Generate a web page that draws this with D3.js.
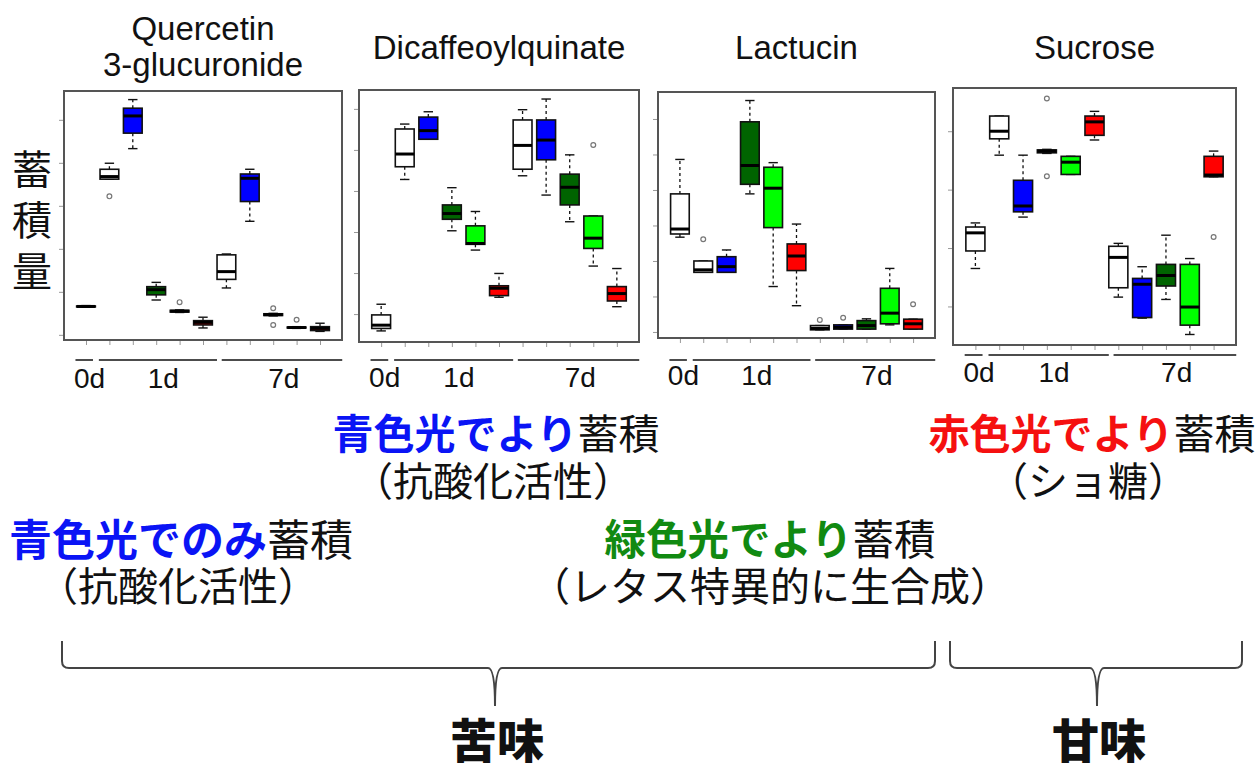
<!DOCTYPE html>
<html lang="ja">
<head>
<meta charset="UTF-8" />
<title>Light quality and metabolite accumulation</title>
<script src="https://d3js.org/d3.v7.min.js"></script>
<style>
  body { margin: 0; background: #fff; }
  svg { display: block; }
  .title { font-family: 'Liberation Sans', Arial, sans-serif; font-size: 33px; fill: #111; }
  .grp { font-family: 'Liberation Sans', Arial, sans-serif; font-size: 28px; fill: #111; }
  .jp { font-family: 'Noto Sans CJK JP', sans-serif; fill: #111; }
</style>
</head>
<body>
<svg width="1258" height="763"></svg>
<script>
// treatment order inside every panel
const days = ["0d", "1d", "1d", "1d", "1d", "1d", "7d", "7d", "7d", "7d", "7d"];
const lights = ["white", "white", "blue", "dkgreen", "green", "red", "white", "blue", "dkgreen", "green", "red"];
const fills = { white: "#ffffff", blue: "#0000ff", dkgreen: "#006400", green: "#00ff00", red: "#ff0000" };

// [min, q1, median, q3, max] in arbitrary units (ticks have no labels)
const quercetinBoxes = [
  [0.64, 0.65, 0.66, 0.67, 0.68], [3.62, 3.62, 3.68, 3.85, 3.99], [4.33, 4.69, 5.09, 5.27, 5.47],
  [0.81, 0.93, 1.05, 1.12, 1.22], [0.52, 0.53, 0.55, 0.57, 0.58], [0.16, 0.23, 0.29, 0.33, 0.41],
  [1.09, 1.29, 1.47, 1.86, 1.88], [2.64, 3.10, 3.64, 3.74, 3.85], [0.44, 0.45, 0.47, 0.49, 0.50],
  [0.15, 0.16, 0.17, 0.18, 0.19], [0.08, 0.10, 0.15, 0.19, 0.27]
];
const quercetinOutliers = [[], [3.22], [], [], [0.76], [], [], [], [0.62, 0.23], [0.35], []];

const dicaffeoylBoxes = [
  [0.59, 0.65, 0.73, 0.98, 1.24], [4.28, 4.59, 4.90, 5.51, 5.63], [5.26, 5.26, 5.47, 5.80, 5.93],
  [3.03, 3.31, 3.45, 3.66, 4.08], [2.56, 2.70, 2.72, 3.15, 3.50], [1.41, 1.45, 1.63, 1.69, 1.99],
  [4.37, 4.53, 5.11, 5.73, 5.98], [3.90, 4.76, 5.24, 5.73, 6.24], [3.25, 3.66, 4.09, 4.41, 4.88],
  [2.17, 2.60, 2.85, 3.39, 3.39], [1.18, 1.32, 1.50, 1.67, 2.11]
];
const dicaffeoylOutliers = [[], [], [], [], [], [], [], [], [], [5.12], []];

const lactucinBoxes = [
  [3.67, 3.76, 3.90, 4.89, 5.86], [2.68, 2.68, 2.75, 3.00, 3.00], [2.68, 2.68, 2.84, 3.12, 3.31],
  [4.89, 5.16, 5.69, 6.92, 7.52], [2.28, 3.94, 5.05, 5.64, 5.77], [1.74, 2.73, 3.14, 3.48, 4.04],
  [1.06, 1.06, 1.10, 1.18, 1.18], [1.08, 1.08, 1.13, 1.20, 1.20], [1.08, 1.08, 1.18, 1.32, 1.37],
  [1.20, 1.23, 1.53, 2.23, 2.79], [1.08, 1.08, 1.23, 1.36, 1.36]
];
const lactucinOutliers = [[], [3.61], [], [], [], [], [1.34], [1.40], [], [], [1.78]];

const sucroseBoxes = [
  [1.65, 1.95, 2.26, 2.36, 2.43], [3.59, 3.87, 4.00, 4.26, 4.26], [2.53, 2.62, 2.72, 3.16, 3.59],
  [3.62, 3.63, 3.66, 3.68, 3.69], [3.26, 3.26, 3.47, 3.57, 3.57], [3.85, 3.93, 4.16, 4.26, 4.34],
  [1.16, 1.32, 1.84, 2.03, 2.08], [0.80, 0.81, 1.38, 1.48, 1.68], [1.12, 1.35, 1.53, 1.72, 2.22],
  [0.52, 0.68, 0.99, 1.72, 1.82], [3.22, 3.22, 3.25, 3.57, 3.66]
];
const sucroseOutliers = [[], [], [], [4.56, 3.23], [], [], [], [], [], [], [2.19]];

const titles = [["Quercetin", "3-glucuronide"], ["Dicaffeoylquinate"], ["Lactucin"], ["Sucrose"]];
const yTicks = [[0, 1, 2, 3, 4, 5], [1, 2, 3, 4, 5, 6], [1, 2, 3, 4, 5, 6, 7], [1, 2, 3, 4]];
const yDomains = [[-0.12, 5.67], [0.32, 6.46], [0.83, 7.76], [0.34, 4.74]];
const dayGroups = [["0d", 0.55, 1.3, 1.15], ["1d", 1.55, 6.6, 4.3], ["7d", 6.8, 11.95, 9.45]];

// panel frames on the page
const frames = [
  { x0: 64, x1: 342, y0: 91, y1: 340, line: 360, lab: 388 },
  { x0: 359, x1: 639, y0: 90, y1: 342, line: 360, lab: 387 },
  { x0: 658, x1: 935, y0: 92, y1: 338, line: 360, lab: 385 },
  { x0: 953, x1: 1236, y0: 88, y1: 345, line: 355, lab: 382 }
];
const boxes = [quercetinBoxes, dicaffeoylBoxes, lactucinBoxes, sucroseBoxes];
const outliers = [quercetinOutliers, dicaffeoylOutliers, lactucinOutliers, sucroseOutliers];

const svg = d3.select("svg");

frames.forEach((f, p) => {
  const x = d3.scaleLinear().domain([0.06, 11.94]).range([f.x0, f.x1]);
  const y = d3.scaleLinear().domain(yDomains[p]).range([f.y1, f.y0]);
  const g = svg.append("g");
  const bw = x(0.4) - x(0);
  const cap = x(0.2) - x(0);

  // frame
  g.append("rect")
    .attr("x", f.x0).attr("y", f.y0)
    .attr("width", f.x1 - f.x0).attr("height", f.y1 - f.y0)
    .attr("fill", "none").attr("stroke", "#555").attr("stroke-width", 2);

  // y ticks, no labels
  g.append("g").attr("transform", `translate(${f.x0 - 1},0)`)
    .call(d3.axisLeft(y).tickValues(yTicks[p]).tickSize(4).tickFormat(""))
    .call(a => a.select(".domain").remove())
    .selectAll("line").attr("stroke", "#999");

  // x ticks
  g.append("g").attr("transform", `translate(0,${f.y1 + 1})`)
    .call(d3.axisBottom(x).tickValues(d3.range(1, 12)).tickSize(4).tickFormat(""))
    .call(a => a.select(".domain").remove())
    .selectAll("line").attr("stroke", "#999");

  const data = boxes[p].map((s, i) => ({ i: i + 1, s, light: lights[i], out: outliers[p][i] }));
  const b = g.selectAll("g.box").data(data).join("g").attr("class", "box");

  // whiskers
  b.append("line")
    .attr("x1", d => x(d.i)).attr("x2", d => x(d.i))
    .attr("y1", d => y(d.s[3])).attr("y2", d => y(d.s[4]))
    .attr("stroke", "#111").attr("stroke-width", 1.3).attr("stroke-dasharray", "3,3");
  b.append("line")
    .attr("x1", d => x(d.i)).attr("x2", d => x(d.i))
    .attr("y1", d => y(d.s[1])).attr("y2", d => y(d.s[0]))
    .attr("stroke", "#111").attr("stroke-width", 1.3).attr("stroke-dasharray", "3,3");
  [0, 4].forEach(k => {
    b.append("line")
      .attr("x1", d => x(d.i) - cap).attr("x2", d => x(d.i) + cap)
      .attr("y1", d => y(d.s[k])).attr("y2", d => y(d.s[k]))
      .attr("stroke", "#111").attr("stroke-width", 1.4);
  });

  // box
  b.append("rect")
    .attr("x", d => x(d.i) - bw).attr("width", 2 * bw)
    .attr("y", d => y(d.s[3]))
    .attr("height", d => Math.max(0.5, y(d.s[1]) - y(d.s[3])))
    .attr("fill", d => fills[d.light])
    .attr("stroke", "#111").attr("stroke-width", 1.6);

  // median
  b.append("line")
    .attr("x1", d => x(d.i) - bw).attr("x2", d => x(d.i) + bw)
    .attr("y1", d => y(d.s[2])).attr("y2", d => y(d.s[2]))
    .attr("stroke", "#000").attr("stroke-width", 3);

  // outliers
  b.selectAll("circle").data(d => d.out.map(v => ({ i: d.i, v }))).join("circle")
    .attr("cx", d => x(d.i)).attr("cy", d => y(d.v)).attr("r", 2.4)
    .attr("fill", "none").attr("stroke", "#777").attr("stroke-width", 1.2);

  // day groups under the axis
  dayGroups.forEach(([lab, a, c, m]) => {
    g.append("line")
      .attr("x1", x(a)).attr("x2", Math.min(x(c), f.x1 + 4))
      .attr("y1", f.line).attr("y2", f.line)
      .attr("stroke", "#111").attr("stroke-width", 1.5);
    g.append("text").attr("class", "grp")
      .attr("x", x(m)).attr("y", f.lab)
      .attr("text-anchor", "middle").text(lab);
  });

  // title
  const t = titles[p];
  const cx = (f.x0 + f.x1) / 2;
  if (t.length === 2) {
    g.append("text").attr("class", "title").attr("x", cx).attr("y", 40).attr("text-anchor", "middle").text(t[0]);
    g.append("text").attr("class", "title").attr("x", cx).attr("y", 76).attr("text-anchor", "middle").text(t[1]);
  } else {
    g.append("text").attr("class", "title").attr("x", cx).attr("y", 59).attr("text-anchor", "middle").text(t[0]);
  }
});

// y axis label, stacked vertically
["蓄", "積", "量"].forEach((c, i) => {
  svg.append("text").attr("class", "jp")
    .attr("x", 32).attr("y", 167 + i * 51)
    .attr("text-anchor", "middle").attr("dominant-baseline", "central")
    .style("font-size", "40px").text(c);
});

// annotations: [colored part, color, rest, x, y, size, subtitle, x, y]
const notes = [
  ["青色光でより", "#0a14f5", "蓄積", 496, 431, 41, "（抗酸化活性）", 493, 479],
  ["青色光でのみ", "#0a14f5", "蓄積", 181, 537, 43, "（抗酸化活性）", 178, 584],
  ["緑色光でより", "#118a11", "蓄積", 770, 537, 41.5, "（レタス特異的に生合成）", 770, 584],
  ["赤色光でより", "#f51010", "蓄積", 1092, 431, 41, "（ショ糖）", 1088, 479]
];
notes.forEach(n => {
  const t = svg.append("text").attr("class", "jp")
    .attr("x", n[3]).attr("y", n[4])
    .attr("text-anchor", "middle").attr("dominant-baseline", "central")
    .style("font-size", n[5] + "px");
  t.append("tspan").style("fill", n[1]).style("font-weight", "bold").text(n[0]);
  t.append("tspan").text(n[2]);
  svg.append("text").attr("class", "jp")
    .attr("x", n[7]).attr("y", n[8])
    .attr("text-anchor", "middle").attr("dominant-baseline", "central")
    .style("font-size", "40px").text(n[6]);
});

// curly braces
function brace(x0, xm, x1) {
  const top = 641, mid = 668, tip = 706, r = 7;
  return `M${x0},${top} L${x0},${mid - r} Q${x0},${mid} ${x0 + r},${mid} L${xm - r},${mid}` +
    ` Q${xm},${mid} ${xm},${tip} Q${xm},${mid} ${xm + r},${mid} L${x1 - r},${mid}` +
    ` Q${x1},${mid} ${x1},${mid - r} L${x1},${top}`;
}
[[62, 495, 935], [950, 1097, 1242]].forEach(b => {
  svg.append("path").attr("d", brace(...b))
    .attr("fill", "none").attr("stroke", "#444").attr("stroke-width", 2);
});

[["苦味", 497], ["甘味", 1099]].forEach(([s, xx]) => {
  svg.append("text").attr("class", "jp")
    .attr("x", xx).attr("y", 737)
    .attr("text-anchor", "middle").attr("dominant-baseline", "central")
    .style("font-size", "47px").style("font-weight", 900).text(s);
});
</script>
</body>
</html>
